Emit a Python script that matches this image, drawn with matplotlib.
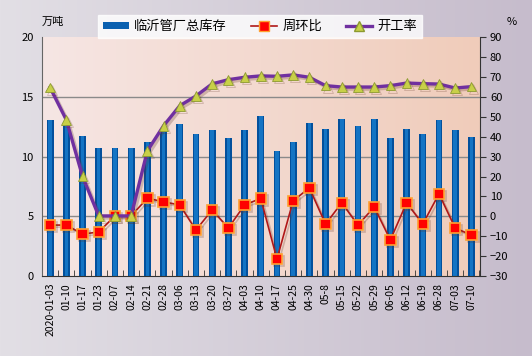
import numpy as np
import matplotlib
matplotlib.use('Agg')
from matplotlib import pyplot as plt
from matplotlib.lines import Line2D
from matplotlib.patches import Patch
import matplotlib.patheffects as pe

plt.rcParams['font.family'] = ['Noto Sans CJK SC', 'DejaVu Sans']

dates = ['2020-01-03', '01-10', '01-17', '01-23', '02-07', '02-14', '02-21', '02-28',
         '03-06', '03-13', '03-20', '03-27', '04-03', '04-10', '04-17', '04-25',
         '04-30', '05-8', '05-15', '05-22', '05-29', '06-05', '06-12', '06-19',
         '06-28', '07-03', '07-10']
stock = [13.1, 12.6, 11.7, 10.75, 10.75, 10.75, 11.26, 12.1, 12.77, 11.93, 12.27, 11.6,
         12.27, 13.38, 10.5, 11.26, 12.86, 12.35, 13.19, 12.6, 13.19, 11.6, 12.35, 11.93,
         13.1, 12.27, 11.68]
wow = [-4.4, -4.4, -8.9, -7.9, 0.2, 0.2, 9.1, 7.3, 5.7, -6.9, 3.2, -5.9, 5.7, 9.0,
       -21.5, 7.8, 14.3, -3.9, 6.8, -4.4, 4.7, -11.9, 6.8, -3.9, 11.3, -5.9, -9.4]
rate = [64.7, 48.5, 20.1, 0.2, 0.2, 0.2, 32.9, 45.5, 55.6, 60.5, 66.6, 68.7, 69.9,
        70.6, 70.4, 71.1, 69.9, 65.7, 65.0, 65.0, 65.0, 65.7, 67.0, 66.7, 66.5, 64.5, 65.2]

x = np.arange(len(dates))

fig = plt.figure(figsize=(5.32, 3.56), dpi=100)

# figure background gradient
bg = fig.add_axes([0, 0, 1, 1], zorder=-10)
grad = np.linspace(0, 1, 256)[None, :]
c0 = np.array([226, 223, 229]) / 255
c1 = np.array([198, 188, 204]) / 255
img = c0[None, None, :] * (1 - grad[..., None]) + c1[None, None, :] * grad[..., None]
bg.imshow(img, aspect='auto', extent=[0, 1, 0, 1])
bg.axis('off')

ax = fig.add_axes([42 / 532, 80 / 356, 437.5 / 532, 238.7 / 356])
ax.set_xlim(-0.5, len(dates) - 0.5)
ax.set_ylim(0, 20)

# plot area gradient
p0 = np.array([246, 230, 228]) / 255
p1 = np.array([240, 204, 186]) / 255
pimg = p0[None, None, :] * (1 - grad[..., None]) + p1[None, None, :] * grad[..., None]
ax.imshow(pimg, aspect='auto', extent=[-0.5, len(dates) - 0.5, 0, 20], zorder=0)

for yv in [5, 10, 15]:
    ax.axhline(yv, color='#8a8a8a', lw=1, zorder=1)

ax.bar(x, stock, width=0.42, color='#03509c', zorder=2)
ax.bar(x, stock, width=0.22, color='#1474c4', zorder=2.1)

ax.set_yticks([0, 5, 10, 15, 20])
ax.tick_params(axis='y', length=0, labelsize=8, pad=6)
ax.set_xticks(x)
ax.set_xticklabels(dates, rotation=90, fontsize=7.5)
ax.set_xticks(np.arange(-0.5, len(dates)), minor=True)
ax.tick_params(axis='x', which='major', length=0, pad=5)
ax.tick_params(axis='x', which='minor', length=4, direction='in', color='#333333')
for s in ['top', 'right']:
    ax.spines[s].set_visible(False)
ax.spines['left'].set_color('#666666')
ax.spines['bottom'].set_color('#333333')

ax2 = ax.twinx()
ax2.set_ylim(-30, 90)
ax2.set_yticks(np.arange(-30, 91, 10))
ax2.tick_params(axis='y', length=4, labelsize=8, direction='out', color='#333333')
ax2.spines['right'].set_color('#333333')
for s in ['top', 'left', 'bottom']:
    ax2.spines[s].set_visible(False)

shadow = [pe.SimpleLineShadow(offset=(1.5, -1.5), alpha=0.25, shadow_color='#603020'), pe.Normal()]
ax2.plot(x, wow, color='#b01818', lw=1.2, marker='s', ms=7.5,
         mfc='#ff0000', mec='#ffa030', mew=1.2, zorder=3, path_effects=shadow)
ax2.plot(x, rate, color='#7030a0', lw=2.4, marker='^', ms=7,
         mfc='#c8d048', mec='#8c9a30', mew=0.6, zorder=4, path_effects=shadow)

fig.text(42 / 532, 1 - 22 / 356, '万吨', fontsize=8, va='center', ha='left')
fig.text(512 / 532, 1 - 22 / 356, '%', fontsize=8, va='center', ha='center')

handles = [
    Patch(facecolor='#0a60b0'),
    Line2D([], [], color='#b01818', lw=1.2, marker='s', ms=7, mfc='#ff0000', mec='#ffa030'),
    Line2D([], [], color='#7030a0', lw=2.4, marker='^', ms=7, mfc='#c8d048', mec='#8c9a30'),
]
leg = fig.legend(handles, ['临沂管厂总库存', '周环比', '开工率'], ncol=3,
                 loc='center', bbox_to_anchor=(260 / 532, 1 - 26.5 / 356),
                 frameon=True, fancybox=False, fontsize=9.5, handlelength=2.0,
                 handleheight=0.5, columnspacing=1.8, borderpad=0.35,
                 handletextpad=0.4, borderaxespad=0)
leg.get_frame().set_facecolor('white')
leg.get_frame().set_edgecolor('white')

fig.savefig('out.png', dpi=100)
